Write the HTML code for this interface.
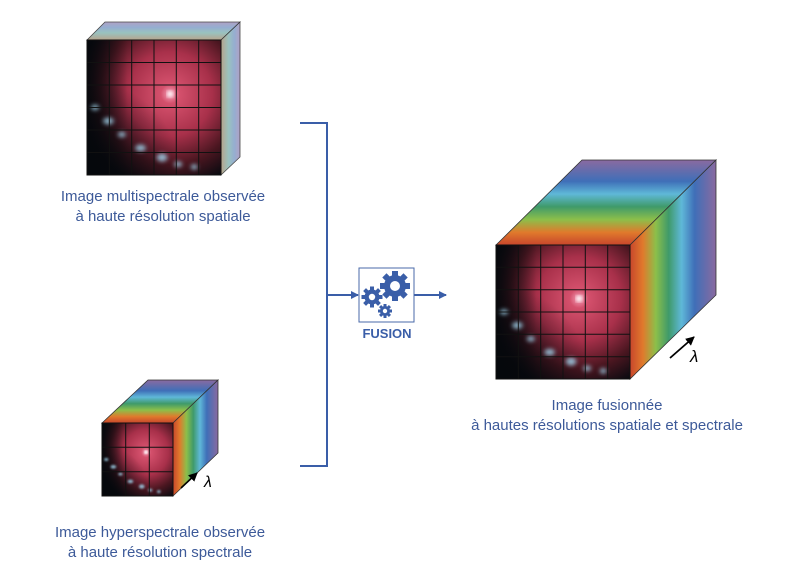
<!DOCTYPE html>
<html><head><meta charset="utf-8"><style>
html,body{margin:0;padding:0;background:#fff;}
svg{display:block;}
text{font-family:"Liberation Sans",sans-serif;}
</style></head><body>
<svg width="800" height="574" viewBox="0 0 800 574" xmlns="http://www.w3.org/2000/svg">
<defs>
 <radialGradient id="gal" cx="0.62" cy="0.4" r="0.7">
  <stop offset="0" stop-color="#f4a0b8"/>
  <stop offset="0.1" stop-color="#d4506c"/>
  <stop offset="0.45" stop-color="#a8304a"/>
  <stop offset="0.75" stop-color="#4a1620"/>
  <stop offset="1" stop-color="#0a0a10"/>
 </radialGradient>
 <linearGradient id="dl" x1="0" y1="0" x2="1" y2="0">
  <stop offset="0" stop-color="#05080c" stop-opacity="0.9"/>
  <stop offset="0.3" stop-color="#05080c" stop-opacity="0"/>
 </linearGradient>
 <radialGradient id="dark" cx="0" cy="1" r="0.7">
  <stop offset="0" stop-color="#05080c" stop-opacity="1"/>
  <stop offset="1" stop-color="#05080c" stop-opacity="0"/>
 </radialGradient>
 <filter id="bl"><feGaussianBlur stdDeviation="1.5"/></filter>
 <g id="galaxy">
  <rect x="0" y="0" width="100" height="100" fill="url(#gal)"/>
  <rect x="0" y="0" width="100" height="100" fill="url(#dl)"/>
  <rect x="0" y="0" width="100" height="100" fill="url(#dark)"/>
  <g filter="url(#bl)" fill="#9fd0e8" opacity="0.85">
   <ellipse cx="6" cy="50" rx="3" ry="2"/>
   <ellipse cx="16" cy="60" rx="4" ry="2.5"/>
   <ellipse cx="26" cy="70" rx="3" ry="2"/>
   <ellipse cx="40" cy="80" rx="4" ry="2.5"/>
   <ellipse cx="56" cy="87" rx="4" ry="3"/>
   <ellipse cx="68" cy="92" rx="3" ry="2"/>
   <ellipse cx="80" cy="94" rx="2.5" ry="2"/>
  </g>
  <circle cx="62" cy="40" r="2.5" fill="#fff" filter="url(#bl)"/>
 </g>
 <linearGradient id="rSide" x1="630" y1="0" x2="716" y2="0" gradientUnits="userSpaceOnUse">
  <stop offset="0" stop-color="#c8462c"/><stop offset="0.15" stop-color="#e07a2c"/>
  <stop offset="0.3" stop-color="#8cbf4a"/><stop offset="0.45" stop-color="#3f9a6a"/>
  <stop offset="0.6" stop-color="#5fb8d8"/><stop offset="0.75" stop-color="#3f6fb8"/>
  <stop offset="1" stop-color="#8a6aa0"/>
 </linearGradient>
 <linearGradient id="rTop" x1="0" y1="245" x2="0" y2="160" gradientUnits="userSpaceOnUse">
  <stop offset="0" stop-color="#c8462c"/><stop offset="0.15" stop-color="#e07a2c"/>
  <stop offset="0.3" stop-color="#8cbf4a"/><stop offset="0.45" stop-color="#3f9a6a"/>
  <stop offset="0.6" stop-color="#5fb8d8"/><stop offset="0.75" stop-color="#3f6fb8"/>
  <stop offset="1" stop-color="#8a6aa0"/>
 </linearGradient>
 <linearGradient id="bSide" x1="173" y1="0" x2="218" y2="0" gradientUnits="userSpaceOnUse">
  <stop offset="0" stop-color="#c8462c"/><stop offset="0.15" stop-color="#e07a2c"/>
  <stop offset="0.3" stop-color="#8cbf4a"/><stop offset="0.45" stop-color="#3f9a6a"/>
  <stop offset="0.6" stop-color="#5fb8d8"/><stop offset="0.75" stop-color="#3f6fb8"/>
  <stop offset="1" stop-color="#8a6aa0"/>
 </linearGradient>
 <linearGradient id="bTop" x1="0" y1="423" x2="0" y2="380" gradientUnits="userSpaceOnUse">
  <stop offset="0" stop-color="#c8462c"/><stop offset="0.15" stop-color="#e07a2c"/>
  <stop offset="0.3" stop-color="#8cbf4a"/><stop offset="0.45" stop-color="#3f9a6a"/>
  <stop offset="0.6" stop-color="#5fb8d8"/><stop offset="0.75" stop-color="#3f6fb8"/>
  <stop offset="1" stop-color="#8a6aa0"/>
 </linearGradient>
 <linearGradient id="mSide" x1="221" y1="0" x2="240" y2="0" gradientUnits="userSpaceOnUse">
  <stop offset="0" stop-color="#b09a80"/><stop offset="0.4" stop-color="#8fbcb8"/>
  <stop offset="0.7" stop-color="#8aa6cc"/><stop offset="1" stop-color="#a898c0"/>
 </linearGradient>
 <linearGradient id="mTop" x1="0" y1="40" x2="0" y2="22" gradientUnits="userSpaceOnUse">
  <stop offset="0" stop-color="#b09a80"/><stop offset="0.4" stop-color="#8fbcb8"/>
  <stop offset="0.7" stop-color="#8aa6cc"/><stop offset="1" stop-color="#a898c0"/>
 </linearGradient>
 <marker id="ah" markerWidth="8" markerHeight="8" refX="7" refY="4" orient="auto" markerUnits="userSpaceOnUse">
  <path d="M0,0 L8,4 L0,8 z" fill="#3a5ea8"/>
 </marker>
 <marker id="ak" markerWidth="9" markerHeight="9" refX="8" refY="4.5" orient="auto" markerUnits="userSpaceOnUse">
  <path d="M0,0 L9,4.5 L0,9 z" fill="#000"/>
 </marker>
</defs>

<g stroke="#333" stroke-width="0.8">
 <polygon points="87,40 105,22 240,22 221,40" fill="url(#mTop)" opacity="0.9"/>
 <polygon points="221,40 240,22 240,157 221,175" fill="url(#mSide)" opacity="0.9"/>
</g>
<use href="#galaxy" transform="translate(87,40) scale(1.34,1.35)"/>
<g stroke="#111" stroke-width="1" fill="none">
 <rect x="87" y="40" width="134" height="135"/>
 <path d="M109.3,40V175M131.7,40V175M154,40V175M176.3,40V175M198.7,40V175M87,62.5H221M87,85H221M87,107.5H221M87,130H221M87,152.5H221"/>
</g>

<g stroke="#333" stroke-width="0.8">
 <polygon points="102,423 148,380 218,380 173,423" fill="url(#bTop)"/>
 <polygon points="173,423 218,380 218,453 173,496" fill="url(#bSide)"/>
</g>
<use href="#galaxy" transform="translate(102,423) scale(0.71,0.73)"/>
<g stroke="#111" stroke-width="1" fill="none">
 <rect x="102" y="423" width="71" height="73"/>
 <path d="M125.7,423V496M149.3,423V496M102,447.3H173M102,471.7H173"/>
</g>
<line x1="181" y1="488" x2="197" y2="473" stroke="#000" stroke-width="1.6" marker-end="url(#ak)"/>
<text x="204" y="487" font-family="Liberation Serif,serif" font-style="italic" font-size="16" fill="#000">λ</text>

<g stroke="#333" stroke-width="0.8">
 <polygon points="496,245 582,160 716,160 630,245" fill="url(#rTop)"/>
 <polygon points="630,245 716,160 716,295 630,379" fill="url(#rSide)"/>
</g>
<use href="#galaxy" transform="translate(496,245) scale(1.34,1.34)"/>
<g stroke="#111" stroke-width="1" fill="none">
 <rect x="496" y="245" width="134" height="134"/>
 <path d="M518.3,245V379M540.7,245V379M563,245V379M585.3,245V379M607.7,245V379M496,267.3H630M496,289.7H630M496,312H630M496,334.3H630M496,356.7H630"/>
</g>
<line x1="670" y1="358" x2="694" y2="337" stroke="#000" stroke-width="1.8" marker-end="url(#ak)"/>
<text x="690" y="362" font-family="Liberation Serif,serif" font-style="italic" font-size="17" fill="#000">λ</text>

<g stroke="#3a5ea8" stroke-width="2" fill="none">
 <path d="M300,123H327V466H300"/>
 <line x1="327" y1="295" x2="358" y2="295" marker-end="url(#ah)"/>
 <line x1="414" y1="295" x2="446" y2="295" marker-end="url(#ah)"/>
</g>
<rect x="359" y="268" width="55" height="54" fill="#fff" stroke="#4a6aa8" stroke-width="1"/>
<g fill="#3a5ea8">
 <circle cx="395" cy="286" r="11"/>
 <g transform="translate(395,286)">
  <rect x="-3" y="-15" width="6" height="30"/><rect x="-15" y="-3" width="30" height="6"/>
  <rect x="-3" y="-15" width="6" height="30" transform="rotate(45)"/><rect x="-3" y="-15" width="6" height="30" transform="rotate(-45)"/>
 </g>
 <circle cx="372" cy="297" r="7.5"/>
 <g transform="translate(372,297)">
  <rect x="-2" y="-10.5" width="4" height="21"/><rect x="-10.5" y="-2" width="21" height="4"/>
  <rect x="-2" y="-10.5" width="4" height="21" transform="rotate(45)"/><rect x="-2" y="-10.5" width="4" height="21" transform="rotate(-45)"/>
 </g>
 <circle cx="385" cy="311" r="5"/>
 <g transform="translate(385,311)">
  <rect x="-1.5" y="-7" width="3" height="14"/><rect x="-7" y="-1.5" width="14" height="3"/>
  <rect x="-1.5" y="-7" width="3" height="14" transform="rotate(45)"/><rect x="-1.5" y="-7" width="3" height="14" transform="rotate(-45)"/>
 </g>
</g>
<g fill="#fff">
 <circle cx="395" cy="286" r="5"/><circle cx="372" cy="297" r="3.2"/><circle cx="385" cy="311" r="2.2"/>
</g>
<text x="387" y="338" text-anchor="middle" font-size="13" font-weight="bold" fill="#3a5ea8">FUSION</text>

<g fill="#3d5a99" font-size="15" text-anchor="middle">
 <text x="163" y="201">Image multispectrale observée</text>
 <text x="163" y="221">à haute résolution spatiale</text>
 <text x="607" y="410">Image fusionnée</text>
 <text x="607" y="430">à hautes résolutions spatiale et spectrale</text>
 <text x="160" y="537">Image hyperspectrale observée</text>
 <text x="160" y="557">à haute résolution spectrale</text>
</g>
</svg>
</body></html>
